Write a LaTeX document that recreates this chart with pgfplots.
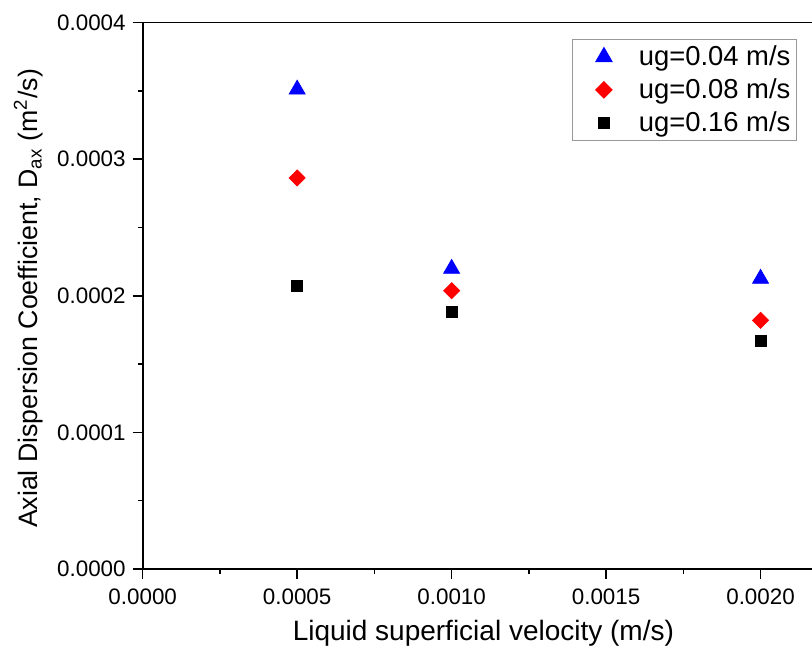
\documentclass[border=0pt]{standalone}
\usepackage{pgfplots}
\pgfplotsset{compat=1.18}
\usepackage{fontspec}
\setmainfont{Liberation Sans}
\pgfplotsset{
  mylegend/.style={legend image code/.code={%
    \path (0pt,0pt) (29.5pt,0pt);
    \draw[##1] plot coordinates {(14.35pt,0pt)};}},
}
\begin{document}
\begin{tikzpicture}
\begin{axis}[
  at={(0,0)}, anchor=south west,
  scale only axis,
  width=334.65pt, height=273.25pt,
  xmin=0, xmax=0.0021665,
  ymin=0, ymax=0.0004,
  axis x line*=box, axis y line*=left,
  tick pos=left,
  xtick={0,0.0005,0.001,0.0015,0.002},
  ytick={0,0.0001,0.0002,0.0003,0.0004},
  minor x tick num=1, minor y tick num=1,
  tick align=outside,
  major tick length=5pt, minor tick length=2.5pt,
  axis line style={line width=0.9pt},
  every tick/.style={line width=0.8pt, black},
  scaled ticks=false,
  /pgf/number format/assume math mode=true,
  xticklabel style={/pgf/number format/.cd, fixed, fixed zerofill, precision=4, /tikz/.cd, yshift=-1.5pt},
  yticklabel style={/pgf/number format/.cd, fixed, fixed zerofill, precision=4},
  tick label style={font=\fontsize{11.2}{13}\selectfont},
  xlabel={Liquid superficial velocity (m/s)},
  ylabel={Axial Dispersion Coefficient, D\textsubscript{ax} (m\textsuperscript{2}/s)},
  xlabel style={font=\fontsize{14}{16.8}\selectfont, at={(axis description cs:0.509,-0.117)}, anchor=center},
  ylabel style={font=\fontsize{13.35}{16}\selectfont, at={(axis description cs:-0.1707,0.495)}, anchor=center},
  legend cell align=left,
  legend style={at={(axis description cs:0.9776,0.9698)}, anchor=north east,
    draw=gray!80, line width=0.6pt,
    font=\fontsize{13.7}{16}\selectfont,
    inner xsep=1pt, inner ysep=0.5pt,
    nodes={inner xsep=2pt, inner ysep=2.5pt}},
]
\addplot[only marks, mylegend, mark=triangle*, mark size=4.6pt, color=blue]
  coordinates {(0.0005,0.0003510) (0.0010,0.0002198) (0.0020,0.0002125)};
\addlegendentry{ug=0.04 m/s}
\addplot[only marks, mylegend, mark=square*, mark size=2.83pt, mark options={rotate=45}, color=red]
  coordinates {(0.0005,0.0002862) (0.0010,0.0002037) (0.0020,0.0001820)};
\addlegendentry{ug=0.08 m/s}
\addplot[only marks, mylegend, mark=square*, mark size=2.75pt, color=black]
  coordinates {(0.0005,0.0002074) (0.0010,0.0001879) (0.0020,0.0001671)};
\addlegendentry{ug=0.16 m/s}
\end{axis}
\pgfresetboundingbox
\useasboundingbox (-71.35pt,-43pt) rectangle (334.65pt,284.5pt);
\end{tikzpicture}
\end{document}
